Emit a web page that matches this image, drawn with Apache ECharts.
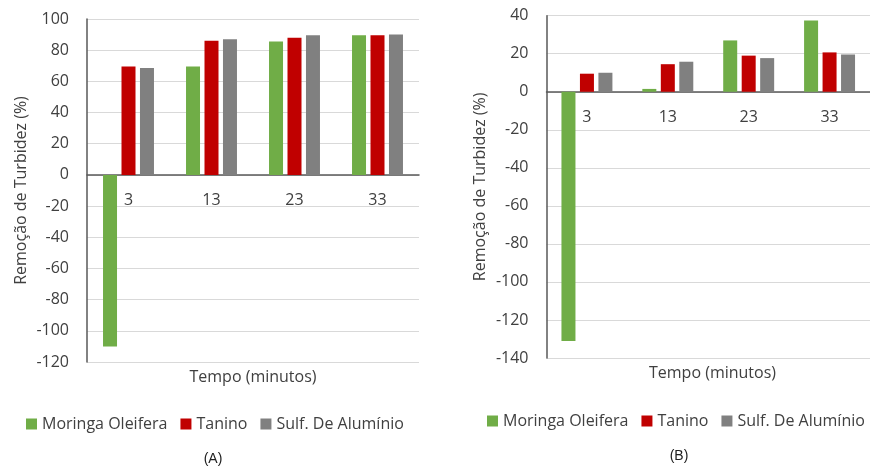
<!DOCTYPE html>
<html>
<head>
<meta charset="utf-8">
<script src="https://cdn.jsdelivr.net/npm/echarts@6/dist/echarts.min.js"></script>
<style>
  html, body { margin: 0; padding: 0; background: #fff; }
  #chart { width: 870px; height: 468px; }
</style>
</head>
<body>
<div id="chart"></div>
<script>
// Tempo de sedimentação (minutos)
const categories = ['3', '13', '23', '33'];
const seriesNames = ['Moringa Oleifera', 'Tanino', 'Sulf. De Alumínio'];

// Painel (A) – remoção de turbidez (%)
const moringaA = [-110, 69.5, 85.5, 89.5];
const taninoA = [69.5, 86, 88, 89.5];
const sulfatoA = [68.5, 87, 89.5, 90];

// Painel (B) – remoção de turbidez (%)
const moringaB = [-131, 1.5, 27, 37.5];
const taninoB = [9.5, 14.5, 19, 20.7];
const sulfatoB = [10, 15.8, 17.7, 19.6];

const colors = ['#70AD47', '#C00000', '#808080'];
const FONT = 'Open Sans';
const TXT = '#404040';

const chart = echarts.init(document.getElementById('chart'), null, { renderer: 'canvas' });

// category labels sit just under the zero line, so pull them up from the grid bottom
function xAxisFor(idx, labelMargin) {
  return {
    type: 'category',
    gridIndex: idx,
    data: categories,
    axisLine: { onZero: true, lineStyle: { color: '#595959', width: 1.5 } },
    axisTick: { show: false },
    axisLabel: { color: TXT, fontFamily: FONT, fontSize: 16, margin: labelMargin, interval: 0 },
    splitLine: { show: false }
  };
}

function yAxisFor(idx, min, max) {
  return {
    type: 'value',
    gridIndex: idx,
    min: min,
    max: max,
    interval: 20,
    name: 'Remoção de Turbidez (%)',
    nameLocation: 'middle',
    nameGap: 58,
    nameTextStyle: { color: TXT, fontFamily: FONT, fontSize: 16 },
    axisLine: { show: true, lineStyle: { color: '#595959', width: 1.5 } },
    axisTick: { show: false },
    axisLabel: { color: TXT, fontFamily: FONT, fontSize: 16, margin: 18 },
    splitLine: { lineStyle: { color: '#D9D9D9', width: 1 } }
  };
}

function barSeries(name, data, color, idx) {
  return {
    type: 'bar',
    name: name,
    xAxisIndex: idx,
    yAxisIndex: idx,
    data: data,
    barWidth: 14,
    barGap: '32%',
    itemStyle: { color: color },
    emphasis: { disabled: true }
  };
}

function legendAt(left, top) {
  return {
    left: left,
    top: top,
    data: seriesNames,
    itemWidth: 11,
    itemHeight: 11,
    itemGap: 13,
    icon: 'rect',
    textStyle: { color: TXT, fontFamily: FONT, fontSize: 16 }
  };
}

chart.setOption({
  animation: false,
  color: colors,
  grid: [
    { left: 87, top: 19, width: 332, height: 343 },
    { left: 546.5, top: 15.7, width: 332, height: 342.3 }
  ],
  xAxis: [xAxisFor(0, -170), xAxisFor(1, -249)],
  yAxis: [yAxisFor(0, -120, 100), yAxisFor(1, -140, 40)],
  legend: [legendAt(21, 411), legendAt(482, 408)],
  series: [
    barSeries(seriesNames[0], moringaA, colors[0], 0),
    barSeries(seriesNames[1], taninoA, colors[1], 0),
    barSeries(seriesNames[2], sulfatoA, colors[2], 0),
    barSeries(seriesNames[0], moringaB, colors[0], 1),
    barSeries(seriesNames[1], taninoB, colors[1], 1),
    barSeries(seriesNames[2], sulfatoB, colors[2], 1)
  ],
  graphic: [
    { type: 'text', x: 253, y: 377, style: { text: 'Tempo (minutos)', fill: TXT, font: '16px "Open Sans"', align: 'center', verticalAlign: 'middle' } },
    { type: 'text', x: 712.5, y: 373, style: { text: 'Tempo (minutos)', fill: TXT, font: '16px "Open Sans"', align: 'center', verticalAlign: 'middle' } },
    { type: 'text', x: 213, y: 459, style: { text: '(A)', fill: '#202020', font: '14px "Liberation Sans"', align: 'center', verticalAlign: 'middle' } },
    { type: 'text', x: 679, y: 456, style: { text: '(B)', fill: '#202020', font: '14px "Liberation Sans"', align: 'center', verticalAlign: 'middle' } }
  ]
});
</script>
</body>
</html>
